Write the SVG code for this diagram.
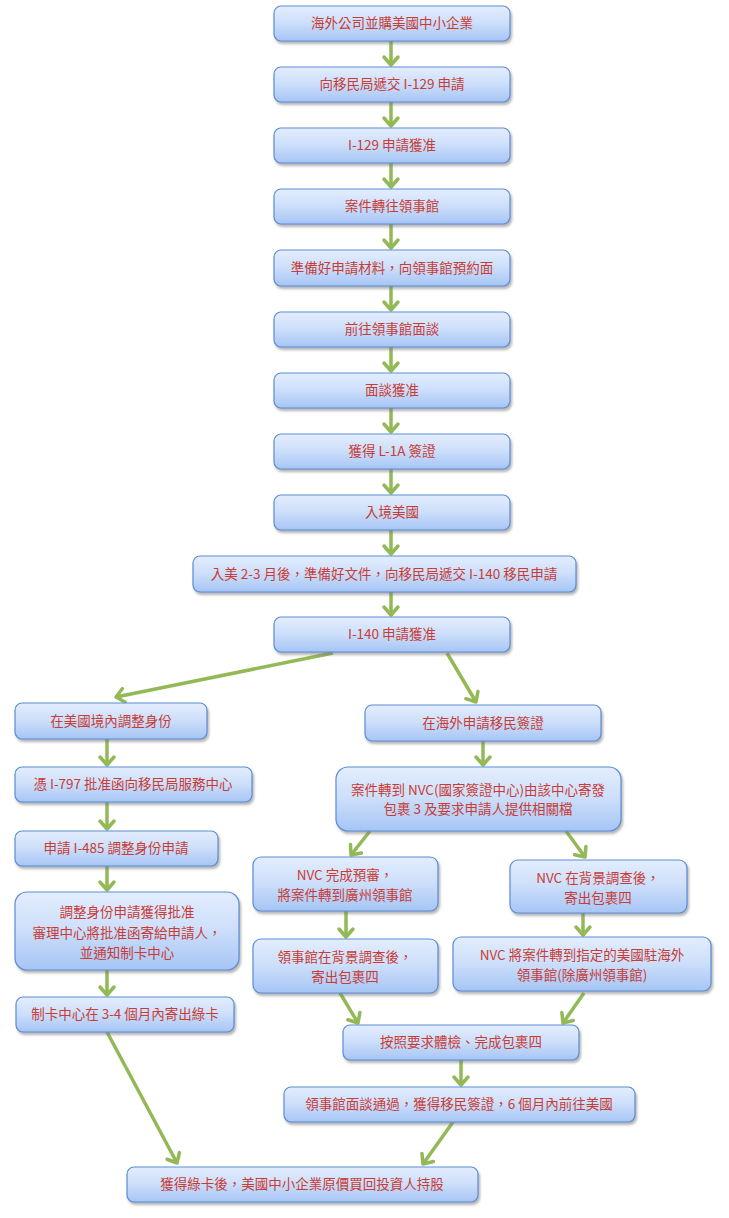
<svg xmlns="http://www.w3.org/2000/svg" width="729" height="1218" viewBox="0 0 729 1218">
<defs>
<linearGradient id="g" x1="0" y1="0" x2="0" y2="1">
<stop offset="0" stop-color="#e3edfd"/>
<stop offset="0.45" stop-color="#cfe0fb"/>
<stop offset="1" stop-color="#a6c5f5"/>
</linearGradient>
<filter id="sh" x="-5%" y="-10%" width="115%" height="140%">
<feDropShadow dx="1.5" dy="2.5" stdDeviation="1.2" flood-color="#777" flood-opacity="0.55"/>
</filter>
<marker id="ah" markerUnits="userSpaceOnUse" markerWidth="20" markerHeight="20" viewBox="0 0 20 20" refX="13" refY="10" orient="auto">
<path d="M5,3 L13,10 L5,17" fill="none" stroke="#93b957" stroke-width="3.5" stroke-linecap="round" stroke-linejoin="round"/>
</marker>
</defs>
<style>
.b rect{fill:url(#g);stroke:#5b8dd6;stroke-width:1.2;filter:url(#sh)}
.b text{font-family:"Noto Sans CJK TC","Noto Sans CJK SC",sans-serif;font-size:13.5px;fill:#c83c36;text-anchor:middle}
.c line{stroke:#93b957;stroke-width:3.5;marker-end:url(#ah)}
</style>
<rect width="729" height="1218" fill="#ffffff"/>
<g class="c" id="connectors">
<line x1="391" y1="41" x2="391" y2="65"/>
<line x1="391" y1="102" x2="391" y2="126"/>
<line x1="391" y1="163" x2="391" y2="187"/>
<line x1="391" y1="224" x2="391" y2="248"/>
<line x1="391" y1="286" x2="391" y2="310"/>
<line x1="391" y1="347" x2="391" y2="371"/>
<line x1="391" y1="408" x2="391" y2="432"/>
<line x1="391" y1="469" x2="391" y2="493"/>
<line x1="391" y1="530" x2="391" y2="554"/>
<line x1="391" y1="592" x2="391" y2="615"/>
<line x1="333" y1="653" x2="116" y2="697"/>
<line x1="447" y1="653" x2="476" y2="702"/>
<line x1="107" y1="739" x2="107" y2="765"/>
<line x1="107" y1="802" x2="107" y2="829"/>
<line x1="107" y1="866" x2="107" y2="890"/>
<line x1="107" y1="970" x2="107" y2="995"/>
<line x1="483" y1="741" x2="483" y2="765"/>
<line x1="370" y1="831" x2="351" y2="855"/>
<line x1="566" y1="831" x2="585" y2="857"/>
<line x1="346" y1="911" x2="346" y2="937"/>
<line x1="583" y1="913" x2="583" y2="935"/>
<line x1="340" y1="993" x2="358" y2="1023"/>
<line x1="584" y1="993" x2="563" y2="1023"/>
<line x1="461" y1="1060" x2="461" y2="1085"/>
<line x1="107" y1="1032" x2="177" y2="1163"/>
<line x1="453" y1="1122" x2="423" y2="1164"/>
</g>
<g class="b" id="n1"><rect x="274" y="6" width="236" height="35" rx="7"/><text x="392" y="28">海外公司並購美國中小企業</text></g>
<g class="b" id="n2"><rect x="274" y="67" width="236" height="35" rx="7"/><text x="392" y="89">向移民局遞交 I-129 申請</text></g>
<g class="b" id="n3"><rect x="274" y="128" width="236" height="35" rx="7"/><text x="392" y="150">I-129 申請獲准</text></g>
<g class="b" id="n4"><rect x="274" y="189" width="236" height="35" rx="7"/><text x="392" y="211">案件轉往領事館</text></g>
<g class="b" id="n5"><rect x="274" y="250" width="236" height="36" rx="7"/><text x="392" y="273">準備好申請材料，向領事館預約面</text></g>
<g class="b" id="n6"><rect x="274" y="312" width="236" height="35" rx="7"/><text x="392" y="334">前往領事館面談</text></g>
<g class="b" id="n7"><rect x="274" y="373" width="236" height="35" rx="7"/><text x="392" y="395">面談獲准</text></g>
<g class="b" id="n8"><rect x="274" y="434" width="236" height="35" rx="7"/><text x="392" y="456">獲得 L-1A 簽證</text></g>
<g class="b" id="n9"><rect x="274" y="495" width="236" height="35" rx="7"/><text x="392" y="517">入境美國</text></g>
<g class="b" id="n10"><rect x="193" y="556" width="383" height="36" rx="7"/><text x="384" y="579">入美 2-3 月後，準備好文件，向移民局遞交 I-140 移民申請</text></g>
<g class="b" id="n11"><rect x="274" y="617" width="236" height="35" rx="7"/><text x="392" y="639">I-140 申請獲准</text></g>
<g class="b" id="l1"><rect x="15" y="703" width="192" height="36" rx="7"/><text x="111" y="726">在美國境內調整身份</text></g>
<g class="b" id="l2"><rect x="15" y="767" width="237" height="35" rx="7"/><text x="133" y="789">憑 I-797 批准函向移民局服務中心</text></g>
<g class="b" id="l3"><rect x="15" y="831" width="203" height="35" rx="7"/><text x="116" y="853">申請 I-485 調整身份申請</text></g>
<g class="b" id="l4"><rect x="15" y="892" width="224" height="78" rx="12"/><text x="127" y="917">調整身份申請獲得批准</text><text x="127" y="938">審理中心將批准函寄給申請人，</text><text x="127" y="958">並通知制卡中心</text></g>
<g class="b" id="l5"><rect x="16" y="997" width="218" height="35" rx="7"/><text x="125" y="1019">制卡中心在 3-4 個月內寄出綠卡</text></g>
<g class="b" id="r1"><rect x="365" y="705" width="236" height="36" rx="7"/><text x="483" y="728">在海外申請移民簽證</text></g>
<g class="b" id="r2"><rect x="336" y="767" width="285" height="64" rx="12"/><text x="478" y="795">案件轉到 NVC(國家簽證中心)由該中心寄發</text><text x="478" y="814">包裹 3 及要求申請人提供相關檔</text></g>
<g class="b" id="r3"><rect x="253" y="857" width="185" height="54" rx="8"/><text x="345" y="880">NVC 完成預審，</text><text x="345" y="900">將案件轉到廣州領事館</text></g>
<g class="b" id="r4"><rect x="510" y="860" width="177" height="53" rx="8"/><text x="598" y="883">NVC 在背景調查後，</text><text x="598" y="903">寄出包裹四</text></g>
<g class="b" id="r5"><rect x="253" y="939" width="185" height="54" rx="8"/><text x="345" y="962">領事館在背景調查後，</text><text x="345" y="982">寄出包裹四</text></g>
<g class="b" id="r6"><rect x="453" y="937" width="258" height="54" rx="8"/><text x="582" y="960">NVC 將案件轉到指定的美國駐海外</text><text x="582" y="980">領事館(除廣州領事館)</text></g>
<g class="b" id="r7"><rect x="343" y="1025" width="236" height="35" rx="7"/><text x="461" y="1047">按照要求體檢、完成包裹四</text></g>
<g class="b" id="r8"><rect x="284" y="1087" width="351" height="35" rx="7"/><text x="459" y="1109">領事館面談通過，獲得移民簽證，6 個月內前往美國</text></g>
<g class="b" id="end"><rect x="127" y="1167" width="351" height="35" rx="7"/><text x="302" y="1189">獲得綠卡後，美國中小企業原價買回投資人持股</text></g>
</svg>
